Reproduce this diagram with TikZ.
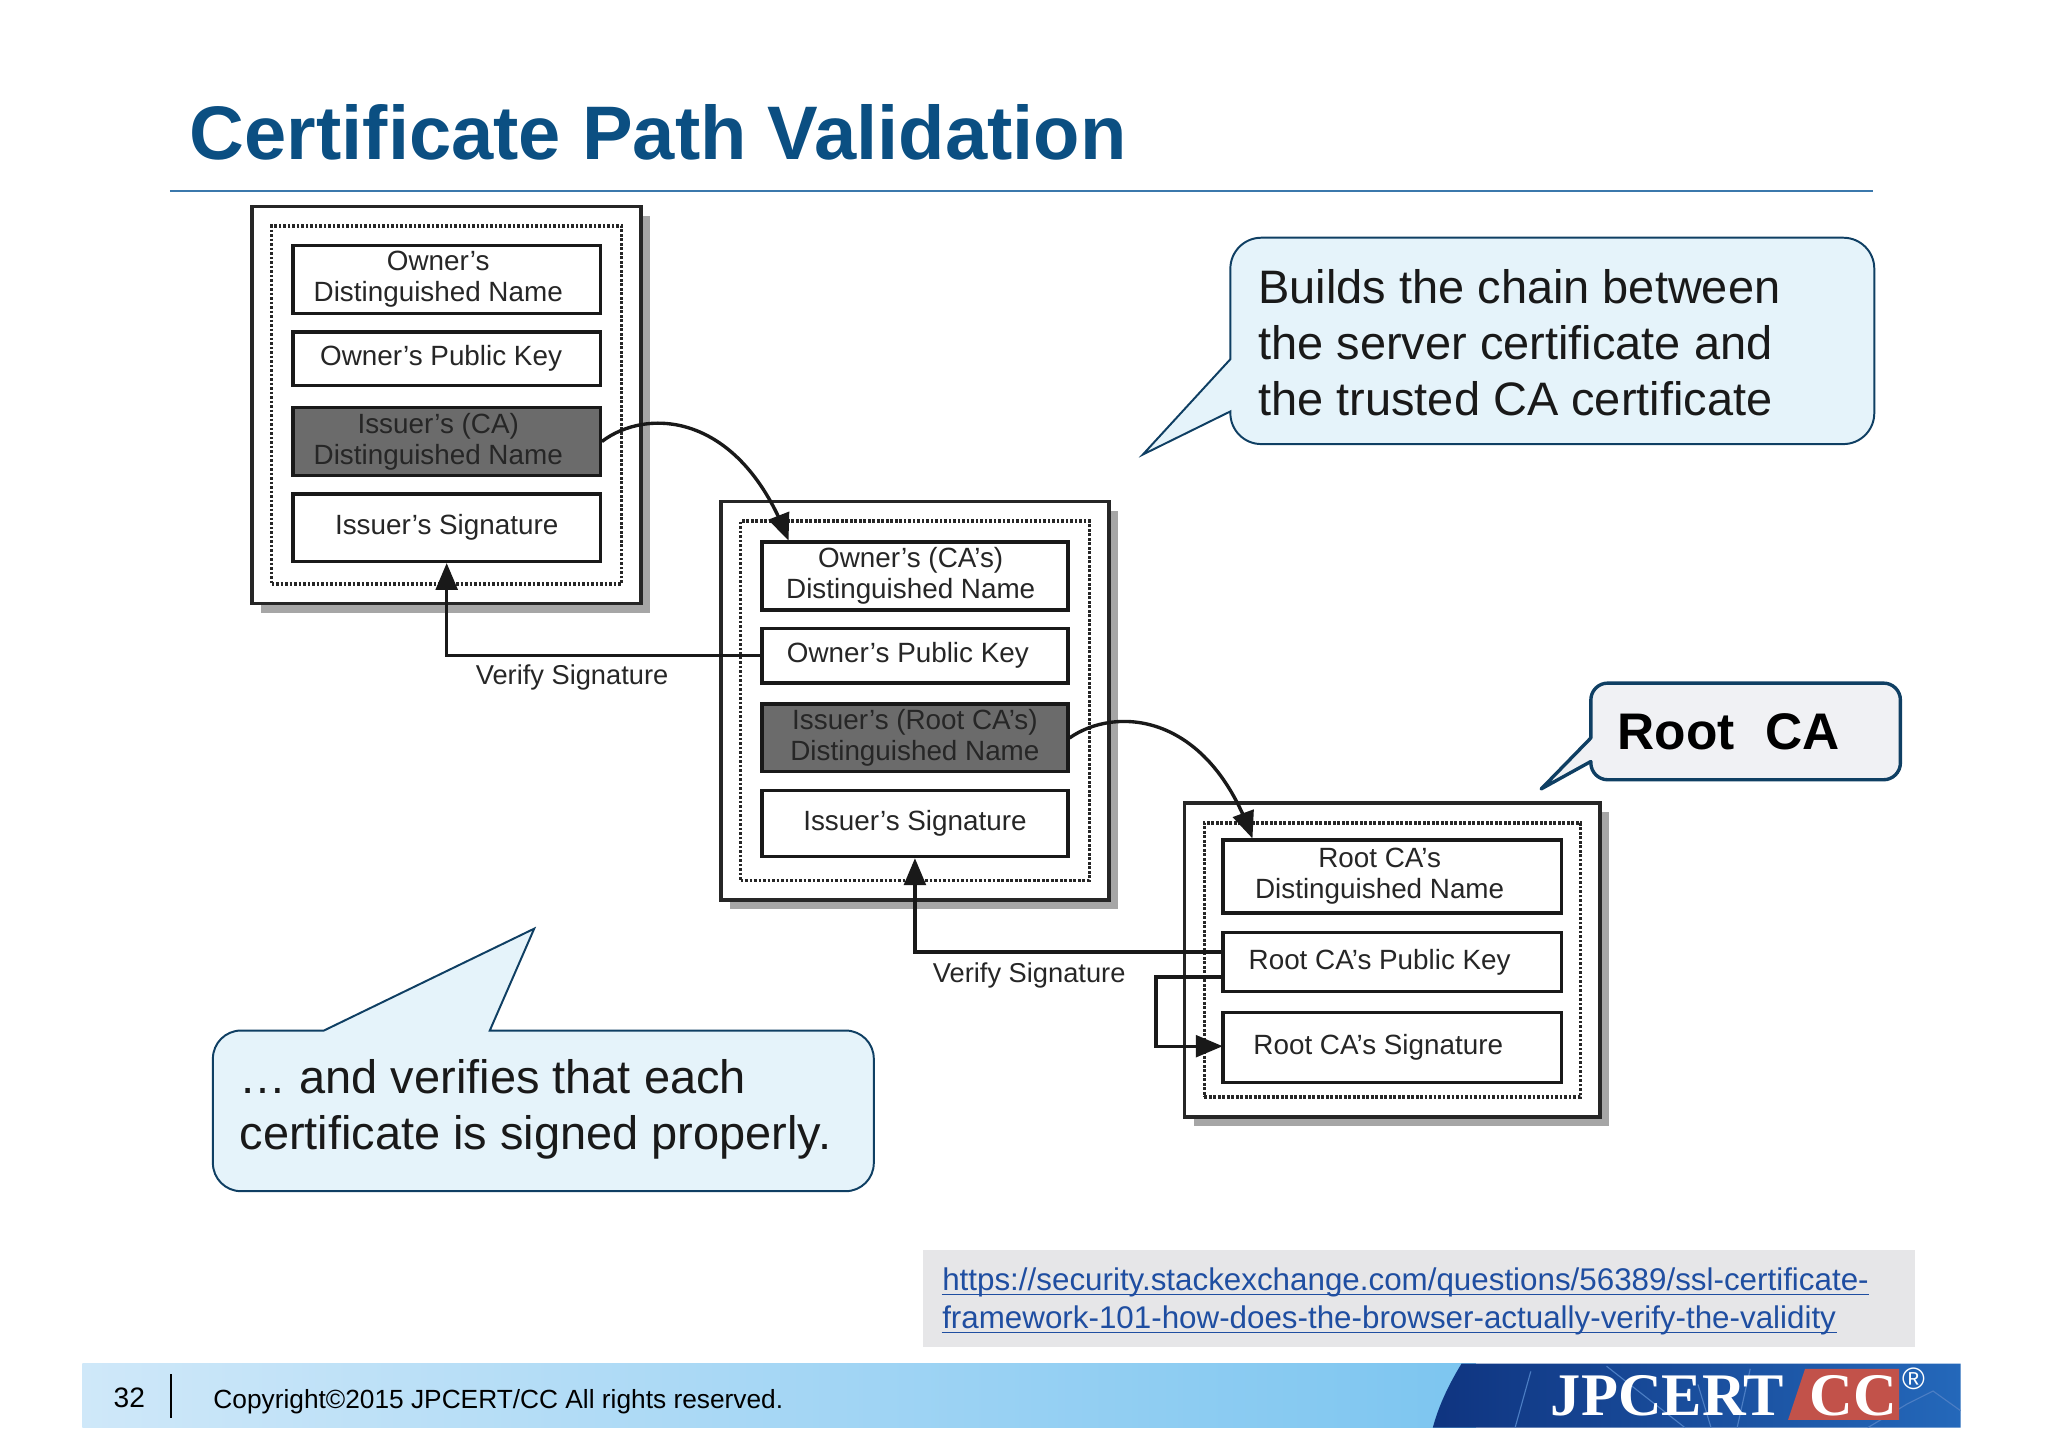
\documentclass[tikz,border=0pt]{standalone}
\usepackage{xcolor}
\usepackage{fontspec}
\setmainfont{Liberation Sans}
\newfontfamily\logofont{Liberation Serif}
\usetikzlibrary{arrows,fit}

\definecolor{titleblue}{HTML}{0B4F82}
\definecolor{rulecol}{HTML}{3B78AC}
\definecolor{bubblefill}{HTML}{E5F3FA}
\definecolor{bubbleline}{HTML}{0F3F63}
\definecolor{rootfill}{HTML}{F0F1F4}
\definecolor{linkblue}{HTML}{1F4EA1}
\definecolor{linkfill}{HTML}{E6E6E8}
\definecolor{bandleft}{HTML}{CFE8F9}
\definecolor{bandright}{HTML}{7CC5F0}
\definecolor{logoleft}{HTML}{0F3480}
\definecolor{logoright}{HTML}{2468BA}
\definecolor{logomap}{HTML}{4C7EC4}
\definecolor{logored}{HTML}{C2524A}

\tikzset{
  framebox/.style={shape=rectangle, draw=black!85, line width=1.3pt, fill=white, inner sep=0pt},
  dotbox/.style={shape=rectangle, draw=black!85, line width=1.2pt, dash pattern=on 1pt off 0.6pt, inner sep=0pt},
  certbox/.style 2 args={shape=rectangle, draw=black!90, line width=1.2pt, fill=white, inner sep=0pt, align=center,
    minimum width=#1*0.4628pt, minimum height=#2*0.4628pt,
    font=\fontsize{9.9}{11.1}\selectfont, text=black!85},
  darkbox/.style={fill=black!58, text=black!85},
  link/.style={draw=black!90, line width=1.2pt, -triangle 45},
  verify/.style={font=\fontsize{9.7}{11.1}\selectfont, text=black!85},
  bubble/.style={draw=bubbleline, line width=0.7pt, fill=bubblefill},
  bubbletext/.style={anchor=base west, inner sep=0pt, font=\fontsize{16.7}{16.7}\selectfont, text=black!90},
  urltext/.style={anchor=base west, inner sep=0pt, font=\fontsize{11.15}{11.15}\selectfont, text=linkblue},
  logotext/.style={anchor=base west, inner sep=0pt, text=white, font=\logofont\fontsize{21.5}{21.5}\selectfont\bfseries},
}

\begin{document}
\begin{tikzpicture}[x=0.016327cm, y=-0.016327cm]
\useasboundingbox (0, 0) rectangle (1568, 1109);

\node (title) at (145, 122) [anchor=base west, inner sep=0pt, text=titleblue,
  font=\fontsize{27}{27}\selectfont\bfseries] {Certificate Path Validation};
\draw [rulecol, line width=0.8pt] (130, 146) -- (1434, 146);

% the three certificates
\foreach \name/\xa/\ya/\xb/\yb in {leaf/193/158/491/462, ca/552/384/849/689, root/907/615/1225/855}
 {
 \fill [black!35] (\xa+7, \ya+7) rectangle (\xb+7, \yb+7);
 \node (\name frame) [framebox, fit={(\xa, \ya) (\xb, \yb)}] {};
 \node (\name dots) [dotbox, fit={(\xa+15, \ya+15) (\xb-15, \yb-15)}] {};
 }

\node (leafdn) at (342, 214) [certbox={236}{52}] {Owner's\hspace*{6pt}\\Distinguished Name\hspace*{6pt}};
\node (leafkey) at (342, 274.5) [certbox={236}{41}] {\raisebox{-1pt}{Owner's Public Key}\hspace*{4pt}};
\node (leafissuer) at (342, 338) [certbox={236}{52}, darkbox] {Issuer's (CA)\hspace*{6pt}\\Distinguished Name\hspace*{6pt}};
\node (leafsig) at (342, 404) [certbox={236}{52}] {Issuer's Signature};

\node (cadn) at (700.5, 441) [certbox={235}{52}] {\raisebox{-1pt}{Owner's (CA's)}\hspace*{3pt}\\\raisebox{-1pt}{Distinguished Name}\hspace*{3pt}};
\node (cakey) at (700.5, 502) [certbox={235}{42}] {Owner's Public Key\hspace*{5pt}};
\node (caissuer) at (700.5, 565) [certbox={235}{52}, darkbox] {Issuer's (Root CA's)\\Distinguished Name};
\node (casig) at (700.5, 630.5) [certbox={235}{51}] {\raisebox{1pt}{Issuer's Signature}};

\node (rootdn) at (1066, 671) [certbox={260}{56}] {Root CA's\hspace*{9pt}\\Distinguished Name\hspace*{9pt}};
\node (rootkey) at (1066, 736.5) [certbox={260}{45}] {\raisebox{-1.8pt}{Root CA's Public Key}\hspace*{9pt}};
\node (rootsig) at (1066, 802) [certbox={260}{54}] {\raisebox{-1pt}{Root CA's Signature}\hspace*{10pt}};

% chain and signature arrows
\draw [link] (leafissuer.east) .. controls (495, 312) and (565, 315) .. ([xshift=10pt]cadn.north west);
\draw [link] (caissuer.east) .. controls (853, 541) and (923, 544) .. ([xshift=11pt]rootdn.north west);
\coordinate (leafturn) at (leafsig.south |- cakey.west);
\coordinate (rootkeya) at (936, 729);
\coordinate (rootkeyb) at (936, 748);
\coordinate (rootsiga) at (936, 801);
\coordinate (caturn) at (casig.south |- rootkeya);
\coordinate (selfa) at (885, 748);
\coordinate (selfb) at (885, 801);
\draw [link] (cakey.west) -- (leafturn) -- (leafsig.south);
\draw [link] (rootkeya) -- (caturn) -- (casig.south);
\draw [link] (rootkeyb) -- (selfa) -- (selfb) -- (rootsiga);
\node (verifya) at (438, 519) [verify] {Verify Signature};
\node (verifyb) at (788, 747) [verify] {Verify Signature};

% speech bubbles
\draw [bubble] (942, 275) [rounded corners=11pt] -- (942, 182) -- (1435, 182) -- (1435, 340) -- (942, 340) [sharp corners] -- (942, 315) -- (875, 348) -- cycle;
\foreach \i/\y/\line in {1/232/Builds the chain between, 2/275/the server certificate and, 3/318/the trusted CA certificate}
 { \node (chain\i) at (963, \y) [bubbletext] {\line}; }

\draw [bubble, line width=1.2pt, line join=round, fill=rootfill] (1218, 565) [rounded corners=6pt] -- (1218, 523) -- (1455, 523) -- (1455, 597) -- (1218, 597) [sharp corners] -- (1218, 583) -- (1180, 604) -- cycle;
\node (rootca) at (1238, 574) [anchor=base west, inner sep=0pt, font=\fontsize{18.3}{18.3}\selectfont\bfseries] {Root\hspace{0.6em}CA};

\draw [bubble] (248, 789) [rounded corners=10pt] -- (163, 789) -- (163, 912) -- (669, 912) -- (669, 789) [sharp corners] -- (375, 789) -- (409, 711) -- cycle;
\node (signeda) at (183, 837) [bubbletext] {… and verifies that each};
\node (signedb) at (183, 880) [bubbletext] {certificate is signed properly.};

% link box
\fill [linkfill] (707, 957) rectangle (1466, 1031);
\node (urla) at (721, 988) [urltext] {https://security.stackexchange.com/questions/56389/ssl-certificate-};
\node (urlb) at (721, 1017) [urltext] {framework-101-how-does-the-browser-actually-verify-the-validity};
\draw [linkblue, line width=0.5pt] ([yshift=-1.5pt]urla.base west) -- ([yshift=-1.5pt]urla.base east);
\draw [linkblue, line width=0.5pt] ([yshift=-1.5pt]urlb.base west) -- ([yshift=-1.5pt]urlb.base east);

% footer band
\shade [left color=bandleft, right color=bandright] (63, 1044) rectangle (1130, 1093);
\shade [left color=logoleft, right color=logoright] (1119, 1044) .. controls (1108, 1062) and (1101, 1078) .. (1097, 1093) -- (1501, 1093) -- (1501, 1044) -- cycle;
\draw [logomap, line width=0.4pt] (1172, 1050) -- (1160, 1093) (1230, 1046) -- (1290, 1093) (1300, 1060) -- (1310, 1093)
  (1430, 1093) -- (1460, 1075) -- (1480, 1065) -- (1501, 1080) (1340, 1048) -- (1330, 1093);
\node (page) at (99, 1070) [font=\fontsize{10}{10}\selectfont, inner sep=0pt] {32};
\draw [line width=0.8pt] (131, 1052) -- (131, 1086);
\node (copyright) at (163, 1078) [anchor=base west, inner sep=0pt, font=\fontsize{9.35}{10}\selectfont] {Copyright©2015 JPCERT/CC All rights reserved.};
\fill [logored] (1382, 1048) -- (1454, 1048) -- (1454, 1087) -- (1369, 1087) -- cycle;
\node (jpcert) at (1187, 1084) [logotext] {JPCERT};
\node (cc) at (1385, 1084) [logotext] {CC};
\node (reg) at (1465, 1056) [inner sep=0pt, text=white, font=\fontsize{11}{11}\selectfont] {®};
\end{tikzpicture}
\end{document}
